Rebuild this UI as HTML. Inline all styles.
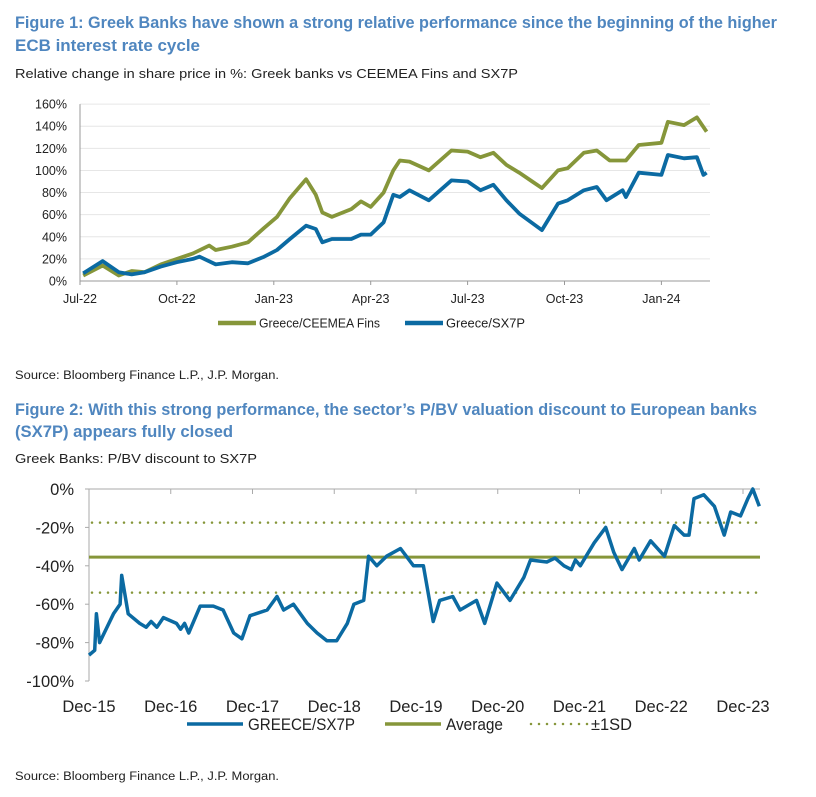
<!DOCTYPE html>
<html><head><meta charset="utf-8"><style>
html,body{margin:0;padding:0;background:#fff;width:816px;height:797px;overflow:hidden}
svg{display:block;font-family:"Liberation Sans Narrow","Liberation Sans",sans-serif}
</style></head><body>
<svg id="s" width="816" height="797" viewBox="0 0 816 797">
<g>
<text x="15" y="28" font-size="16.5" font-weight="bold" fill="#4f86bf" textLength="762" lengthAdjust="spacingAndGlyphs">Figure 1: Greek Banks have shown a strong relative performance since the beginning of the higher</text>
<text x="15" y="51" font-size="16.5" font-weight="bold" fill="#4f86bf" textLength="185" lengthAdjust="spacingAndGlyphs">ECB interest rate cycle</text>
<text x="15" y="78" font-size="13" fill="#222" textLength="503" lengthAdjust="spacingAndGlyphs">Relative change in share price in %: Greek banks vs CEEMEA Fins and SX7P</text>
</g>
<g id="c1"></g>
<text x="15" y="379" font-size="11.5" fill="#222" textLength="264" lengthAdjust="spacingAndGlyphs">Source: Bloomberg Finance L.P., J.P. Morgan.</text>
<g>
<text x="15" y="415" font-size="16.5" font-weight="bold" fill="#4f86bf" textLength="742" lengthAdjust="spacingAndGlyphs">Figure 2: With this strong performance, the sector’s P/BV valuation discount to European banks</text>
<text x="15" y="437" font-size="16.5" font-weight="bold" fill="#4f86bf" textLength="218" lengthAdjust="spacingAndGlyphs">(SX7P) appears fully closed</text>
<text x="15" y="463" font-size="13" fill="#222" textLength="242" lengthAdjust="spacingAndGlyphs">Greek Banks: P/BV discount to SX7P</text>
</g>
<g id="c2"></g>
<text x="15" y="780" font-size="11.5" fill="#222" textLength="264" lengthAdjust="spacingAndGlyphs">Source: Bloomberg Finance L.P., J.P. Morgan.</text>
</svg>
<script>
// Chart 1 data (t = months since Jul-22)
const c1Ticks = [0,20,40,60,80,100,120,140,160];
const c1XLabels = ["Jul-22","Oct-22","Jan-23","Apr-23","Jul-23","Oct-23","Jan-24"];
const c1GreenT = [0.1,0.7,1.2,1.6,2.0,2.5,3.0,3.5,4.0,4.2,4.7,5.2,5.7,6.1,6.5,7.0,7.3,7.5,7.8,8.4,8.7,9.0,9.4,9.7,9.9,10.2,10.8,11.5,12.0,12.4,12.8,13.2,13.6,14.0,14.3,14.8,15.1,15.6,16.0,16.4,16.9,17.3,18.0,18.2,18.7,19.1,19.4];
const c1GreenV = [5,14,5,9,8,15,20,25,32,28,31,35,48,58,75,92,78,62,58,65,72,67,80,100,109,108,100,118,117,112,116,105,98,90,84,100,102,116,118,109,109,123,125,144,141,148,135];
const c1BlueT = [0.1,0.7,1.2,1.6,2.0,2.5,3.0,3.5,3.7,4.2,4.7,5.2,5.7,6.1,6.5,7.0,7.3,7.5,7.8,8.4,8.7,9.0,9.4,9.7,9.9,10.2,10.8,11.5,12.0,12.4,12.8,13.2,13.6,14.3,14.8,15.1,15.6,16.0,16.3,16.8,16.9,17.3,18.0,18.2,18.7,19.1,19.3,19.4];
const c1BlueV = [7,18,8,6,8,13,17,20,22,15,17,16,22,28,38,50,47,35,38,38,42,42,53,78,76,82,73,91,90,82,87,73,61,46,70,73,82,85,73,82,76,98,96,114,111,112,96,98];
// Chart 2 data (t = years since Dec-15)
const c2T = [0,0.07,0.09,0.13,0.22,0.3,0.38,0.4,0.48,0.62,0.7,0.76,0.83,0.91,1.07,1.12,1.17,1.22,1.36,1.52,1.64,1.77,1.87,1.97,2.18,2.3,2.38,2.5,2.67,2.79,2.91,3.03,3.16,3.24,3.36,3.42,3.52,3.64,3.81,3.97,4.09,4.21,4.29,4.45,4.54,4.74,4.84,4.99,5.15,5.32,5.40,5.60,5.7,5.81,5.9,5.95,6.01,6.18,6.32,6.42,6.52,6.67,6.73,6.87,7.04,7.16,7.28,7.34,7.40,7.52,7.65,7.77,7.85,7.97,8.06,8.12,8.20];
const c2V = [-86.5,-84,-65,-80,-72,-65,-60,-45,-65,-70,-72,-69,-72,-67,-70,-73,-70,-75,-61,-61,-63,-75,-78,-66,-63,-56,-63,-60,-70,-75,-79,-79,-70,-60,-58,-35,-40,-35,-31,-40,-40,-69,-58,-56,-63,-58,-70,-49,-58,-46,-37,-38,-36,-40,-42,-37,-40,-28,-20,-33,-42,-31,-37,-27,-35,-19,-24,-24,-5,-3,-9,-24,-12,-14,-5,0,-9];
const c2Ticks = [0,-20,-40,-60,-80,-100];
const c2XLabels = ["Dec-15","Dec-16","Dec-17","Dec-18","Dec-19","Dec-20","Dec-21","Dec-22","Dec-23"];
const c2Avg = [-35.5];
const c2SD = [-17.5,-54];

const NS="http://www.w3.org/2000/svg";
function mk(p,tag,a){const e=document.createElementNS(NS,tag);for(const k in a)e.setAttribute(k,a[k]);p.appendChild(e);return e;}
const GREEN="#86963a", BLUE="#0b6aa2";

// Chart 1
const c1=document.getElementById('c1');
const x1=t=>80+t*32.3, y1=v=>281-v*1.1056;
c1Ticks.forEach(v=>{
  if(v>0){const g=mk(c1,'line',{x1:80,x2:710,y1:y1(v),y2:y1(v),stroke:'#e6e6e6','stroke-width':1});
  
  }
  const t=mk(c1,'text',{x:67,y:y1(v)+4.5,'font-size':12.5,'text-anchor':'end',fill:'#222'});t.textContent=v+'%';
  
  
});
let ax=mk(c1,'line',{x1:80,x2:80,y1:y1(160),y2:281,stroke:'#999','stroke-width':1});


ax=mk(c1,'line',{x1:80,x2:710,y1:281,y2:281,stroke:'#999','stroke-width':1});


c1XLabels.forEach((l,i)=>{
  const x=x1(i*3);
  const tk=mk(c1,'line',{x1:x,x2:x,y1:281,y2:285,stroke:'#999'});
  
  
  const t=mk(c1,'text',{x:x,y:303,'font-size':12.5,'text-anchor':'middle',fill:'#222'});t.textContent=l;
  
  
});
function path(T,V,fx,fy){return T.map((t,i)=>(i?'L':'M')+fx(t).toFixed(1)+','+fy(V[i]).toFixed(1)).join('');}
let p=mk(c1,'path',{d:path(c1GreenT,c1GreenV,x1,y1),fill:'none',stroke:GREEN,'stroke-width':3.8,'stroke-linejoin':'round'});


p=mk(c1,'path',{d:path(c1BlueT,c1BlueV,x1,y1),fill:'none',stroke:BLUE,'stroke-width':3.8,'stroke-linejoin':'round'});


let lg=mk(c1,'line',{x1:218,x2:256,y1:323,y2:323,stroke:GREEN,'stroke-width':4.5});


let lt=mk(c1,'text',{x:259,y:327.5,'font-size':12.5,fill:'#222',textLength:121,lengthAdjust:'spacingAndGlyphs'});lt.textContent='Greece/CEEMEA Fins';


lg=mk(c1,'line',{x1:405,x2:443,y1:323,y2:323,stroke:BLUE,'stroke-width':4.5});


lt=mk(c1,'text',{x:446,y:327.5,'font-size':12.5,fill:'#222',textLength:79,lengthAdjust:'spacingAndGlyphs'});lt.textContent='Greece/SX7P';



// Chart 2
const c2=document.getElementById('c2');
const x2=t=>89+t*81.75, y2=v=>489-v*1.92;
ax=mk(c2,'line',{x1:89,x2:760,y1:489,y2:489,stroke:'#aaa','stroke-width':1});


ax=mk(c2,'line',{x1:89,x2:89,y1:489,y2:y2(-100),stroke:'#aaa','stroke-width':1});


c2Ticks.forEach(v=>{
  const tk=mk(c2,'line',{x1:85,x2:89,y1:y2(v),y2:y2(v),stroke:'#aaa'});
  
  
  const t=mk(c2,'text',{x:74,y:y2(v)+6,'font-size':16.5,'text-anchor':'end',fill:'#222'});t.textContent=v+'%';
  
  
});
c2XLabels.forEach((l,i)=>{
  const x=x2(i);
  const tk=mk(c2,'line',{x1:x,x2:x,y1:489,y2:494,stroke:'#aaa'});
  
  
  const t=mk(c2,'text',{x:x,y:712,'font-size':16.5,'text-anchor':'middle',fill:'#222'});t.textContent=l;
  
  
});
c2SD.forEach(v=>{
  const l=mk(c2,'line',{x1:92,x2:758,y1:y2(v),y2:y2(v),stroke:GREEN,'stroke-width':2.5,'stroke-dasharray':'0 8','stroke-linecap':'round'});
  
  
});
c2Avg.forEach(v=>{
  const l=mk(c2,'line',{x1:89,x2:760,y1:y2(v),y2:y2(v),stroke:GREEN,'stroke-width':3});
  
  
});
p=mk(c2,'path',{d:path(c2T,c2V,x2,y2),fill:'none',stroke:BLUE,'stroke-width':3.5,'stroke-linejoin':'round'});


lg=mk(c2,'line',{x1:187,x2:243,y1:724,y2:724,stroke:BLUE,'stroke-width':3.5});


lt=mk(c2,'text',{x:248,y:730,'font-size':16.5,fill:'#222',textLength:107,lengthAdjust:'spacingAndGlyphs'});lt.textContent='GREECE/SX7P';


lg=mk(c2,'line',{x1:385,x2:441,y1:724,y2:724,stroke:GREEN,'stroke-width':3.5});


lt=mk(c2,'text',{x:446,y:730,'font-size':16.5,fill:'#222',textLength:57,lengthAdjust:'spacingAndGlyphs'});lt.textContent='Average';


lg=mk(c2,'line',{x1:531,x2:588,y1:724,y2:724,stroke:GREEN,'stroke-width':2.5,'stroke-dasharray':'0 8','stroke-linecap':'round'});


lt=mk(c2,'text',{x:591,y:730,'font-size':16.5,fill:'#222',textLength:41,lengthAdjust:'spacingAndGlyphs'});lt.textContent='±1SD';


</script>
</body></html>
